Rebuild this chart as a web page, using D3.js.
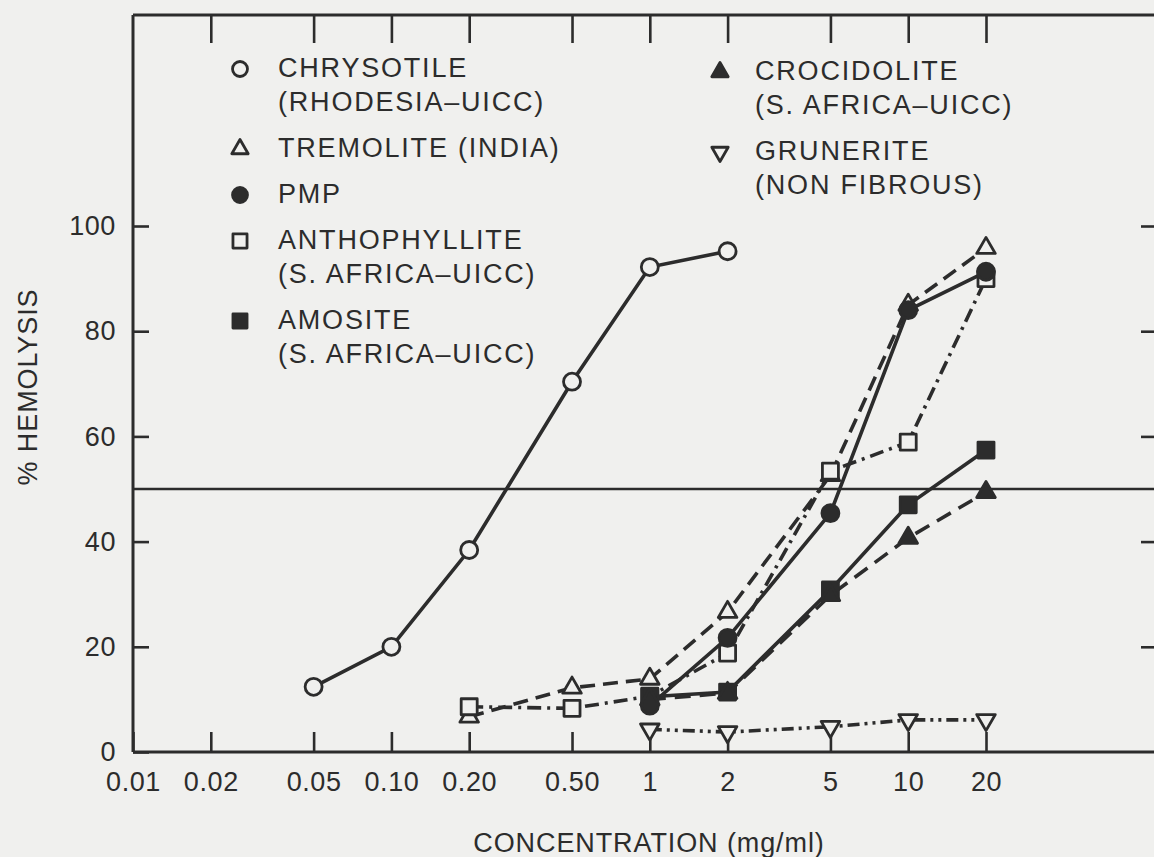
<!DOCTYPE html>
<html><head><meta charset="utf-8">
<script src="https://cdn.jsdelivr.net/npm/d3@7"></script>
<style>html,body{margin:0;padding:0;background:#f0f0ee;} svg{display:block;}</style>
</head><body><svg id="c" width="1154" height="857"></svg>
<script>
// ---------- data ----------
const concTicks = [0.01, 0.02, 0.05, 0.1, 0.2, 0.5, 1, 2, 5, 10, 20];
const concTickLabels = ["0.01", "0.02", "0.05", "0.10", "0.20", "0.50", "1", "2", "5", "10", "20"];
const hemoTicks = [0, 20, 40, 60, 80, 100];
const halfLine = 50;

const chrysotileX = [0.05, 0.1, 0.2, 0.5, 1, 2];
const chrysotileY = [12.4, 20.0, 38.4, 70.4, 92.2, 95.2];
const tremoliteX = [0.2, 0.5, 1, 2, 5, 10, 20];
const tremoliteY = [6.7, 12.2, 13.9, 26.6, 52.6, 85.0, 95.8];
const pmpX = [1, 2, 5, 10, 20];
const pmpY = [8.8, 21.7, 45.4, 84.0, 91.3];
const anthophylliteX = [0.2, 0.5, 1, 2, 5, 10, 20];
const anthophylliteY = [8.6, 8.3, 10.6, 18.8, 53.4, 58.9, 90.0];
const amositeX = [1, 2, 5, 10, 20];
const amositeY = [10.5, 11.4, 30.8, 47.0, 57.4];
const crocidoliteX = [1, 2, 5, 10, 20];
const crocidoliteY = [10.0, 11.2, 29.8, 40.7, 49.4];
const gruneriteX = [1, 2, 5, 10, 20];
const gruneriteY = [4.3, 3.8, 4.8, 6.1, 6.1];

const legendLeftLabels = [["CHRYSOTILE", "(RHODESIA\u2013UICC)"], ["TREMOLITE (INDIA)"], ["PMP"], ["ANTHOPHYLLITE", "(S. AFRICA\u2013UICC)"], ["AMOSITE", "(S. AFRICA\u2013UICC)"]];
const legendRightLabels = [["CROCIDOLITE", "(S. AFRICA\u2013UICC)"], ["GRUNERITE", "(NON FIBROUS)"]];
const xTitle = "CONCENTRATION (mg/ml)";
const yTitle = "% HEMOLYSIS";

// ---------- styles / layout ----------
const INK = "#2c2c2c", BG = "#f0f0ee";
const FONT = "'Liberation Sans', Arial, Helvetica, sans-serif";
const L = 133, T = 15, B = 752, R = 1162;

const series = [
  {xs: chrysotileX, ys: chrysotileY, dash: null, sym: "circle", filled: false},
  {xs: tremoliteX, ys: tremoliteY, dash: "15,8", sym: "triUp", filled: false},
  {xs: anthophylliteX, ys: anthophylliteY, dash: "14,6,3,6", sym: "square", filled: false},
  {xs: pmpX, ys: pmpY, dash: null, sym: "circle", filled: true},
  {xs: amositeX, ys: amositeY, dash: null, sym: "square", filled: true},
  {xs: crocidoliteX, ys: crocidoliteY, dash: "16,9", sym: "triUp", filled: true},
  {xs: gruneriteX, ys: gruneriteY, dash: "12,5,3,5,3,5", sym: "triDown", filled: false}
];
const legendLeftSyms = [["circle", false], ["triUp", false], ["circle", true], ["square", false], ["square", true]];
const legendRightSyms = [["triUp", true], ["triDown", false]];

const svg = d3.select("#c");
svg.append("rect").attr("width", 1154).attr("height", 857).attr("fill", BG);

const x = d3.scaleLog().domain([0.01, 20]).range([L, 986]);
const y = d3.scaleLinear().domain([0, 100]).range([B, 226]);

function styleAxis(g, showText) {
  g.select(".domain").remove();
  g.selectAll(".tick line").attr("stroke", INK).attr("stroke-width", 2.6);
  g.selectAll(".tick text").attr("fill", INK).attr("font-family", FONT).attr("font-size", 27)
    .attr("letter-spacing", 0.6).style("display", showText ? null : "none");
}

// bottom axis
svg.append("g").attr("transform", `translate(0,${B})`)
  .call(d3.axisBottom(x).tickValues(concTicks).tickSize(-20).tickPadding(20)
    .tickFormat((d, i) => concTickLabels[i]))
  .call(g => styleAxis(g, true));
// top axis
svg.append("g").attr("transform", `translate(0,${T})`)
  .call(d3.axisTop(x).tickValues(concTicks.slice(1)).tickSize(-28).tickFormat(""))
  .call(g => styleAxis(g, false));
// left axis
svg.append("g").attr("transform", `translate(${L},0)`)
  .call(d3.axisLeft(y).tickValues(hemoTicks).tickSize(-16).tickPadding(17))
  .call(g => styleAxis(g, true));
// right axis
svg.append("g").attr("transform", `translate(${R},0)`)
  .call(d3.axisRight(y).tickValues(hemoTicks.slice(1)).tickSize(-21).tickFormat(""))
  .call(g => styleAxis(g, false));

// frame
const frame = svg.append("g").attr("stroke", INK).attr("stroke-width", 3).attr("fill", "none");
frame.append("line").attr("x1", L).attr("x2", R).attr("y1", T).attr("y2", T);
frame.append("line").attr("x1", L).attr("x2", R).attr("y1", B).attr("y2", B);
frame.append("line").attr("x1", L).attr("x2", L).attr("y1", T).attr("y2", B);
frame.append("line").attr("x1", R).attr("x2", R).attr("y1", T).attr("y2", B);

// 50% line
svg.append("line").attr("x1", L).attr("x2", R).attr("y1", y(halfLine)).attr("y2", y(halfLine))
  .attr("stroke", INK).attr("stroke-width", 2.4);

// titles
svg.append("text").attr("x", 649).attr("y", 852).attr("text-anchor", "middle")
  .attr("font-family", FONT).attr("font-size", 27).attr("letter-spacing", 0.9).attr("fill", INK).text(xTitle);
svg.append("text").attr("transform", "translate(37,387) rotate(-90)").attr("text-anchor", "middle")
  .attr("font-family", FONT).attr("font-size", 27).attr("letter-spacing", 0.9).attr("fill", INK).text(yTitle);

// symbols
function drawSym(g, type, filled, cx, cy, s) {
  let el;
  const sw = 2.8;
  if (type === "circle") {
    el = g.append("circle").attr("cx", cx).attr("cy", cy).attr("r", 8.5 * s);
  } else if (type === "square") {
    const h = 8 * s;
    el = g.append("rect").attr("x", cx - h).attr("y", cy - h).attr("width", 2 * h).attr("height", 2 * h);
  } else {
    const sz = d3.symbol().type(d3.symbolTriangle).size(150 * s * s);
    el = g.append("path").attr("d", sz()).attr("transform",
      `translate(${cx},${cy})` + (type === "triDown" ? " rotate(180)" : ""));
  }
  el.attr("fill", filled ? INK : BG).attr("stroke", INK).attr("stroke-width", sw).attr("stroke-linejoin", "round");
}

const line = d3.line().x(d => x(d[0])).y(d => y(d[1]));
const linesG = svg.append("g");
series.forEach(s => {
  const pts = s.xs.map((v, i) => [v, s.ys[i]]);
  linesG.append("path").attr("d", line(pts)).attr("fill", "none").attr("stroke", INK)
    .attr("stroke-width", 3.6).attr("stroke-dasharray", s.dash);
});
const marksG = svg.append("g");
series.forEach(s => {
  s.xs.forEach((v, i) => drawSym(marksG, s.sym, s.filled, x(v), y(s.ys[i]), 1));
});

// legend
function legendColumn(labels, syms, mx, tx, y0) {
  const g = svg.append("g");
  let b = y0;
  labels.forEach((lines, k) => {
    drawSym(g, syms[k][0], syms[k][1], mx, b - 8, 0.88);
    lines.forEach((t, j) => {
      g.append("text").attr("x", tx).attr("y", b).attr("font-family", FONT).attr("font-size", 27)
        .attr("letter-spacing", 1.8).attr("fill", INK).text(t);
      if (j < lines.length - 1) b += 34;
    });
    b += 46;
  });
}
legendColumn(legendLeftLabels, legendLeftSyms, 240, 278, 77);
legendColumn(legendRightLabels, legendRightSyms, 720, 755, 80);
</script></body></html>
